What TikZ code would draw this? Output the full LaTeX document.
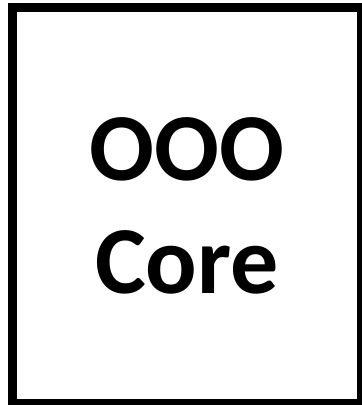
\documentclass[tikz,border=0pt]{standalone}
\usepackage{fontspec}
\setmainfont{Carlito}
\usetikzlibrary{positioning}
\tikzset{
  corebox/.style={draw=black, line width=9pt, fill=white, align=center,
    minimum width=349pt, minimum height=396pt, inner sep=0pt,
    font=\bfseries\fontsize{96}{113}\selectfont}
}
\begin{document}
\begin{tikzpicture}[x=1pt,y=-1pt]
    \useasboundingbox (0,0) rectangle (362,405);
    \node[corebox] (core) at (187,205.5) {OOO\\Core};
  \end{tikzpicture}
\end{document}
